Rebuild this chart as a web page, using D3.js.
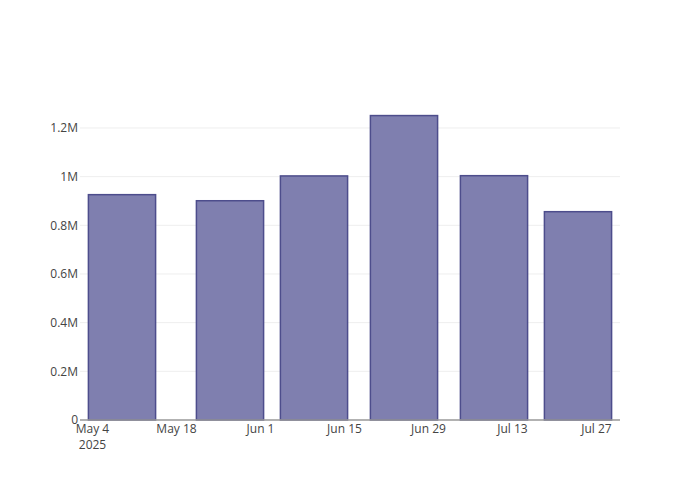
<!DOCTYPE html>
<html>
<head>
<meta charset="utf-8">
<script src="https://cdn.jsdelivr.net/npm/d3@7"></script>
<style>
  html, body { margin: 0; padding: 0; background: #fff; }
  svg { display: block; }
  text { font-family: "Open Sans", verdana, arial, sans-serif; font-size: 12px; fill: #444; }
</style>
</head>
<body>
<svg id="chart" width="700" height="500"></svg>
<script>
// Data
const dates = ["2025-05-09", "2025-05-27", "2025-06-10", "2025-06-25", "2025-07-10", "2025-07-24"];
const values = [926000, 901000, 1003000, 1251000, 1004000, 856000];
const xTickDates = ["2025-05-04", "2025-05-18", "2025-06-01", "2025-06-15", "2025-06-29", "2025-07-13", "2025-07-27"];
const yTickValues = [0, 200000, 400000, 600000, 800000, 1000000, 1200000];
const yTickLabels = ["0", "0.2M", "0.4M", "0.6M", "0.8M", "1M", "1.2M"];

const parse = d3.utcParse("%Y-%m-%d");
const W = 700, H = 500;
const margin = { l: 80, r: 80, t: 100, b: 80 };
const svg = d3.select("#chart");

const x = d3.scaleUtc()
  .domain([parse("2025-05-02"), parse("2025-07-31")])
  .range([margin.l, W - margin.r]);
const y = d3.scaleLinear()
  .domain([0, 1315000])
  .range([H - margin.b, margin.t]);

const dayMs = 86400000;
const barDays = 0.8 * 14;

// gridlines
svg.append("g")
  .selectAll("line")
  .data(yTickValues.filter(v => v > 0))
  .join("line")
  .attr("x1", margin.l).attr("x2", W - margin.r)
  .attr("y1", d => y(d)).attr("y2", d => y(d))
  .attr("stroke", "#eee").attr("stroke-width", 1);

// bars
svg.append("g")
  .selectAll("rect")
  .data(dates.map((d, i) => ({ date: parse(d), value: values[i] })))
  .join("rect")
  .attr("x", d => x(new Date(d.date.getTime() - barDays / 2 * dayMs)))
  .attr("width", d => x(new Date(d.date.getTime() + barDays / 2 * dayMs)) - x(new Date(d.date.getTime() - barDays / 2 * dayMs)))
  .attr("y", d => y(d.value))
  .attr("height", d => y(0) - y(d.value))
  .attr("fill", "#7f7faf")
  .attr("stroke", "#4d4d8c")
  .attr("stroke-width", 1.5);

// x axis
const fmt = d3.utcFormat("%b %-d");
const xAxis = d3.axisBottom(x)
  .tickValues(xTickDates.map(parse))
  .tickSize(0)
  .tickPadding(0)
  .tickFormat(fmt);
const gx = svg.append("g")
  .attr("transform", `translate(0,${H - margin.b})`)
  .call(xAxis);
gx.select(".domain").remove();
gx.selectAll("text")
  .attr("dy", null)
  .attr("y", 13)
  .attr("font-family", null).attr("font-size", null).attr("fill", null)
  .each(function(d, i) {
    if (i === 0) {
      d3.select(this).append("tspan").attr("x", 0).attr("dy", 16).text(d3.utcFormat("%Y")(d));
    }
  });
gx.selectAll(".tick text").each(function(d, i) {
  const t = d3.select(this);
  if (i === 0) {
    t.text(null);
    t.append("tspan").attr("x", 0).attr("dy", 0).text(fmt(d));
    t.append("tspan").attr("x", 0).attr("dy", 16).text(d3.utcFormat("%Y")(d));
  }
});
svg.append("line")
  .attr("x1", margin.l).attr("x2", W - margin.r)
  .attr("y1", y(0)).attr("y2", y(0))
  .attr("stroke", "#999").attr("stroke-width", 1.5);

// y axis
const yAxis = d3.axisLeft(y)
  .tickValues(yTickValues)
  .tickSize(0)
  .tickPadding(2)
  .tickFormat((d, i) => yTickLabels[i]);
const gy = svg.append("g")
  .attr("transform", `translate(${margin.l},0)`)
  .call(yAxis);
gy.select(".domain").remove();
gy.selectAll("text")
  .attr("font-family", null).attr("font-size", null).attr("fill", null);
</script>
</body>
</html>
